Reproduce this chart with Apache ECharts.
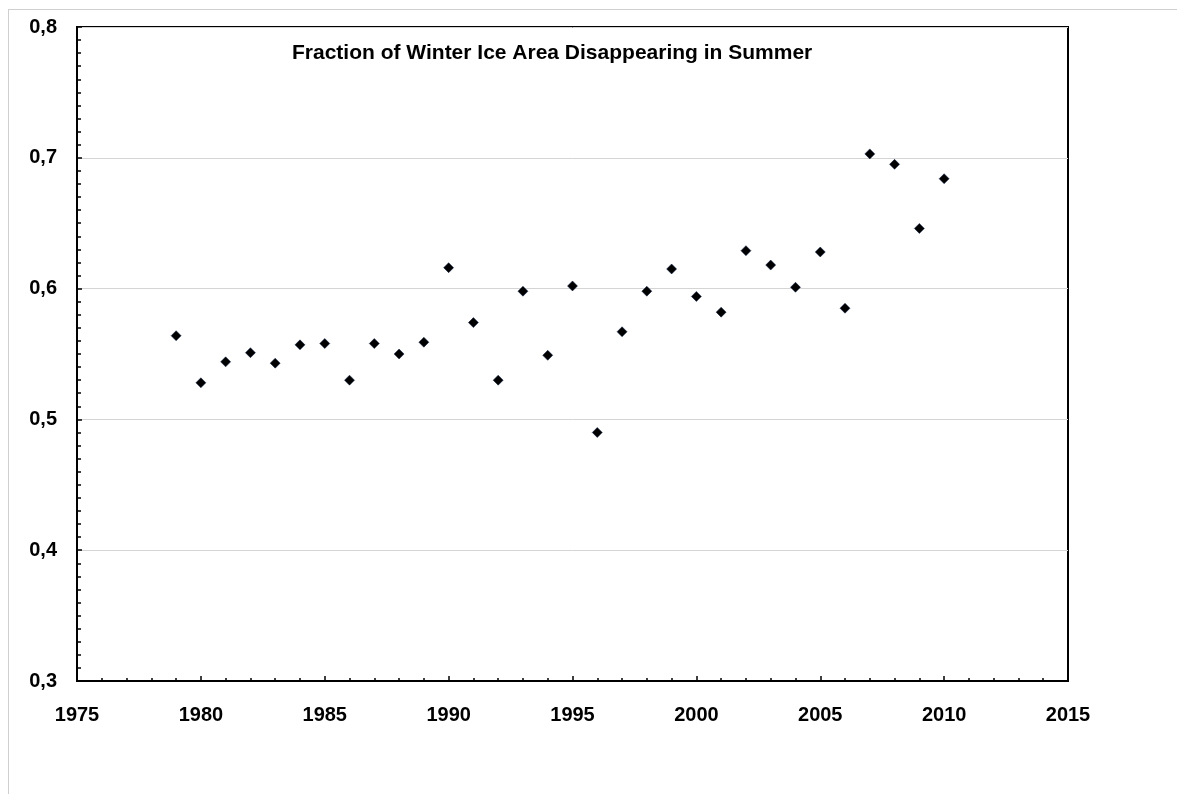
<!DOCTYPE html>
<html>
<head>
<meta charset="utf-8">
<title>Fraction of Winter Ice Area Disappearing in Summer</title>
<script src="https://cdn.jsdelivr.net/npm/echarts@6/dist/echarts.min.js"></script>
<style>
    html, body { margin: 0; padding: 0; background: #fff; }
    #frame {
        position: absolute;
        left: 8px;
        top: 9px;
        width: 1200px;
        height: 800px;
        border-left: 1px solid #cfcfcf;
        border-top: 1px solid #cfcfcf;
    }
    #chart { position: absolute; left: 0; top: 0; width: 1177px; height: 794px; }
</style>
</head>
<body>
<div id="frame"></div>
<div id="chart"></div>
<script>
const years = [
    1979, 1980, 1981, 1982, 1983, 1984, 1985, 1986, 1987, 1988, 1989, 1990,
    1991, 1992, 1993, 1994, 1995, 1996, 1997, 1998, 1999, 2000, 2001, 2002,
    2003, 2004, 2005, 2006, 2007, 2008, 2009, 2010
];
const meltFraction = [
    0.564, 0.528, 0.544, 0.551, 0.543, 0.557, 0.558, 0.530, 0.558, 0.550, 0.559, 0.616,
    0.574, 0.530, 0.598, 0.549, 0.602, 0.490, 0.567, 0.598, 0.615, 0.594, 0.582, 0.629,
    0.618, 0.601, 0.628, 0.585, 0.703, 0.695, 0.646, 0.684
];
const xRange = { min: 1975, max: 2015, step: 5 };
const yRange = { min: 0.3, max: 0.8, step: 0.1 };
const chartTitle = 'Fraction of Winter Ice Area Disappearing in Summer';

function initChart() {
    const chartDom = document.getElementById('chart');
    const myChart = echarts.init(chartDom);

    const points = years.map((year, i) => [year, meltFraction[i]]);
    const labelFont = {
        color: '#000',
        fontFamily: 'Liberation Sans, Arial, sans-serif',
        fontWeight: 'bold',
        fontSize: 20
    };

    const option = {
        animation: false,
        backgroundColor: 'transparent',
        title: {
            text: chartTitle,
            left: 287,
            top: 38,
            textStyle: {
                fontFamily: 'Liberation Sans, Arial, sans-serif',
                fontWeight: 'bold',
                fontSize: 21,
                color: '#000'
            }
        },
        grid: {
            left: 77,
            top: 27,
            width: 991,
            height: 654,
            show: true,
            borderColor: '#000',
            borderWidth: 2,
            backgroundColor: 'transparent'
        },
        xAxis: {
            type: 'value',
            min: xRange.min,
            max: xRange.max,
            interval: xRange.step,
            axisLine: { lineStyle: { color: '#000', width: 2 } },
            axisTick: { inside: true, length: 5, lineStyle: { color: '#000', width: 1.5 } },
            minorTick: { show: true, splitNumber: 5, length: 3, lineStyle: { color: '#000', width: 1.5 } },
            splitLine: { show: false },
            axisLabel: { ...labelFont, margin: 24, formatter: v => String(v) }
        },
        yAxis: {
            type: 'value',
            min: yRange.min,
            max: yRange.max,
            interval: yRange.step,
            axisLine: { show: true, lineStyle: { color: '#000', width: 2 } },
            axisTick: { show: true, inside: true, length: 5, lineStyle: { color: '#000', width: 1.5 } },
            minorTick: { show: true, splitNumber: 10, length: 4, lineStyle: { color: '#000', width: 1.5 } },
            splitLine: { show: true, lineStyle: { color: '#d4d4d4', width: 1 } },
            axisLabel: {
                ...labelFont,
                margin: 20,
                formatter: v => v.toFixed(1).replace('.', ',')
            }
        },
        series: [
            {
                name: 'Fraction',
                type: 'scatter',
                data: points,
                symbol: 'diamond',
                symbolSize: 10,
                itemStyle: {
                    color: '#000',
                    borderColor: '#0b1f45',
                    borderWidth: 0.5,
                    opacity: 1
                }
            }
        ]
    };

    myChart.setOption(option);
    window.addEventListener('resize', () => myChart.resize());
}

initChart();
</script>
</body>
</html>
